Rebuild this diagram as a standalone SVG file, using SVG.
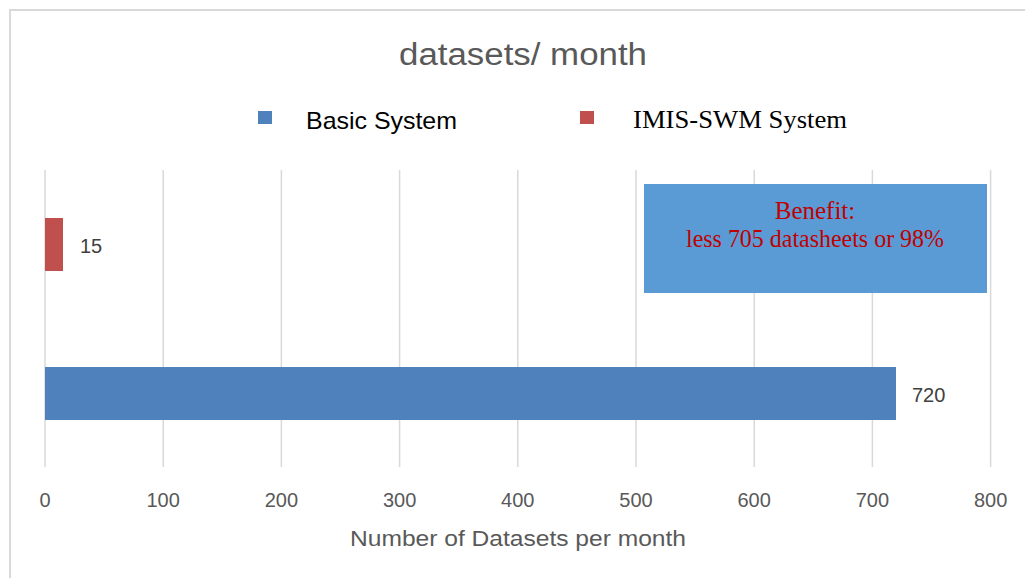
<svg xmlns="http://www.w3.org/2000/svg" width="1025" height="578" viewBox="0 0 1025 578">
  <style>
    .grid { stroke: #D9D9D9; stroke-width: 1.5; }
    .tick { font-family: "Liberation Sans", Arial, sans-serif; font-size: 20px; fill: #595959; text-anchor: middle; }
    .val { font-family: "Liberation Sans", Arial, sans-serif; font-size: 20px; fill: #404040; }
    .note { font-family: "Liberation Serif", "Times New Roman", serif; font-size: 25px; fill: #C00000; text-anchor: middle; }
  </style>
  <rect width="1025" height="578" fill="#FFFFFF"/>
  <!-- chart frame -->
  <path d="M10 578 V10 H1025" fill="none" stroke="#D9D9D9" stroke-width="2"/>

  <!-- title -->
  <text x="523" y="65" font-family="Liberation Sans, Arial, sans-serif" font-size="31" fill="#595959" text-anchor="middle" textLength="248" lengthAdjust="spacingAndGlyphs">datasets/ month</text>

  <!-- legend -->
  <g id="legend">
    <rect x="258" y="111" width="14" height="13" fill="#4F81BD"/>
    <text x="306" y="129" font-family="Liberation Sans, Arial, sans-serif" font-size="24" fill="#000000" textLength="151" lengthAdjust="spacingAndGlyphs">Basic System</text>
    <rect x="580" y="111" width="14" height="13" fill="#C0504D"/>
    <text x="633" y="128" font-family="Liberation Serif, Times New Roman, serif" font-size="26" fill="#000000" textLength="214" lengthAdjust="spacingAndGlyphs">IMIS-SWM System</text>
  </g>

  <!-- vertical gridlines, 0..800 step 100 -->
  <g id="gridlines">
    <line class="grid" x1="45" y1="170" x2="45" y2="467"/>
    <line class="grid" x1="163.2" y1="170" x2="163.2" y2="467"/>
    <line class="grid" x1="281.4" y1="170" x2="281.4" y2="467"/>
    <line class="grid" x1="399.6" y1="170" x2="399.6" y2="467"/>
    <line class="grid" x1="517.8" y1="170" x2="517.8" y2="467"/>
    <line class="grid" x1="636" y1="170" x2="636" y2="467"/>
    <line class="grid" x1="754.2" y1="170" x2="754.2" y2="467"/>
    <line class="grid" x1="872.4" y1="170" x2="872.4" y2="467"/>
    <line class="grid" x1="990.6" y1="170" x2="990.6" y2="467"/>
  </g>

  <!-- bars -->
  <g id="bar-imis">
    <rect x="45" y="218" width="18" height="53" fill="#C0504D"/>
    <text class="val" x="80" y="253">15</text>
  </g>
  <g id="bar-basic">
    <rect x="45" y="367" width="851" height="53" fill="#4F81BD"/>
    <text class="val" x="912" y="402">720</text>
  </g>

  <!-- annotation box -->
  <g id="benefit">
    <rect x="644" y="184" width="343" height="109" fill="#5B9BD5"/>
    <text class="note" x="815" y="219">Benefit:</text>
    <text class="note" x="815" y="247" textLength="258" lengthAdjust="spacingAndGlyphs">less 705 datasheets or 98%</text>
  </g>

  <!-- axis tick labels -->
  <g id="axis">
    <text class="tick" x="45" y="507">0</text>
    <text class="tick" x="163.2" y="507">100</text>
    <text class="tick" x="281.4" y="507">200</text>
    <text class="tick" x="399.6" y="507">300</text>
    <text class="tick" x="517.8" y="507">400</text>
    <text class="tick" x="636" y="507">500</text>
    <text class="tick" x="754.2" y="507">600</text>
    <text class="tick" x="872.4" y="507">700</text>
    <text class="tick" x="990.6" y="507">800</text>
    <text x="518" y="546" font-family="Liberation Sans, Arial, sans-serif" font-size="22" fill="#595959" text-anchor="middle" textLength="336" lengthAdjust="spacingAndGlyphs">Number of Datasets per month</text>
  </g>
</svg>
